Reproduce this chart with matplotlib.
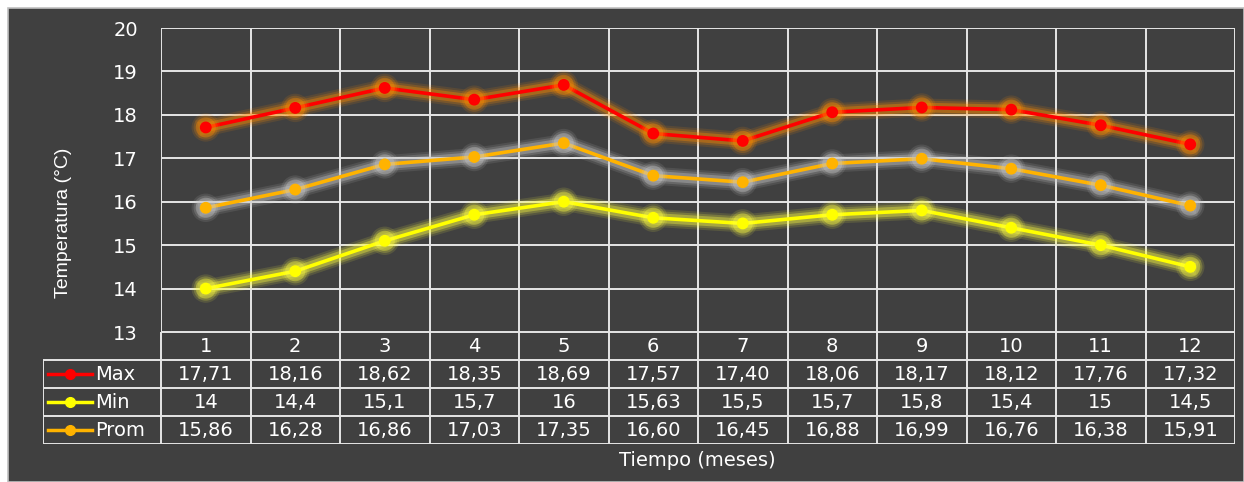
import numpy as np
import matplotlib.pyplot as plt
import matplotlib.patheffects as pe
from matplotlib.patches import Rectangle

plt.rcParams['font.family'] = ['DejaVu Sans']

months = [1, 2, 3, 4, 5, 6, 7, 8, 9, 10, 11, 12]
t_max = [17.71, 18.16, 18.62, 18.35, 18.69, 17.57, 17.40, 18.06, 18.17, 18.12, 17.76, 17.32]
t_min = [14, 14.4, 15.1, 15.7, 16, 15.63, 15.5, 15.7, 15.8, 15.4, 15, 14.5]
t_prom = [15.86, 16.28, 16.86, 17.03, 17.35, 16.60, 16.45, 16.88, 16.99, 16.76, 16.38, 15.91]

max_labels = ["17,71", "18,16", "18,62", "18,35", "18,69", "17,57", "17,40", "18,06", "18,17", "18,12", "17,76", "17,32"]
min_labels = ["14", "14,4", "15,1", "15,7", "16", "15,63", "15,5", "15,7", "15,8", "15,4", "15", "14,5"]
prom_labels = ["15,86", "16,28", "16,86", "17,03", "17,35", "16,60", "16,45", "16,88", "16,99", "16,76", "16,38", "15,91"]

series = [
    ("Max", t_max, max_labels, "#ff0000", "#ff8c00"),
    ("Min", t_min, min_labels, "#ffff00", "#ffff40"),
    ("Prom", t_prom, prom_labels, "#ffb300", "#c8c8c8"),
]

bg = "#404040"
grid_c = "#e6e6e6"
fs = 14
W, H = 1244, 482
fig = plt.figure(figsize=(W / 100, H / 100), dpi=100, facecolor="white")
fig.patches.append(Rectangle((8 / W, 0), 1 - 8 / W, 1 - 8 / H, transform=fig.transFigure,
                             facecolor=bg, edgecolor="#c0c0c0", lw=1.2, zorder=-10))

# plot area
x0, x1, ytop, ybot = 161, 1235, 28, 332
ax = fig.add_axes([x0 / W, 1 - ybot / H, (x1 - x0) / W, (ybot - ytop) / H])
ax.set_facecolor(bg)
ax.set_xlim(0.5, 12.5)
ax.set_ylim(13, 20)
for s in ax.spines.values():
    s.set_visible(False)
ax.set_xticks([])
ax.set_yticks(range(13, 21))
ax.tick_params(axis="y", length=0, pad=16.5, labelsize=fs, labelcolor="white")
ax.hlines(range(13, 21), 0.5, 12.5, color=grid_c, lw=1.4, zorder=1)
ax.vlines(np.arange(0.5, 13, 1), 13, 20, color=grid_c, lw=1.4, zorder=1)

def glow(c):
    return [pe.Stroke(linewidth=13, foreground=c, alpha=0.12),
            pe.Stroke(linewidth=10, foreground=c, alpha=0.2),
            pe.Stroke(linewidth=7, foreground=c, alpha=0.35),
            pe.Normal()]

for name, vals, _, col, gcol in series:
    ax.plot(months, vals, color=col, lw=2.6, marker="o", ms=7.5, zorder=3,
            path_effects=glow(gcol))

# data table under the plot
unit = (x1 - x0) / 12
tx0 = 43
tab_bottom = 444
tab = fig.add_axes([tx0 / W, 1 - tab_bottom / H, (x1 - tx0) / W, (tab_bottom - ybot) / H])
xmin = 0.5 - (x0 - tx0) / unit
tab.set_xlim(xmin, 12.5)
tab.set_ylim(4, 0)
tab.axis("off")
tab.patch.set_alpha(0)

tab.hlines([0], 0.5, 12.5, color=grid_c, lw=1.4)
tab.hlines([1, 2, 3, 4], xmin, 12.5, color=grid_c, lw=1.4)
tab.vlines(np.arange(0.5, 13, 1), 0, 4, color=grid_c, lw=1.4)
tab.vlines([xmin], 1, 4, color=grid_c, lw=1.4)

for m in months:
    tab.text(m, 0.5, str(m), color="white", fontsize=fs, ha="center", va="center")

for r, (name, vals, labels, col, gcol) in enumerate(series, start=1):
    yc = r + 0.5
    tab.plot([xmin + 0.06, xmin + 0.55], [yc, yc], color=col, lw=2.5)
    tab.plot([xmin + 0.305], [yc], "o", color=col, ms=7)
    tab.text(xmin + 0.58, yc, name, color="white", fontsize=fs, ha="left", va="center")
    for m, lab in zip(months, labels):
        tab.text(m, yc, lab, color="white", fontsize=fs, ha="center", va="center")

fig.text(63 / W, 1 - 223 / H, "Temperatura (°C)", rotation=90, color="white",
         fontsize=14, family="Liberation Sans", ha="center", va="center")
fig.text(697 / W, 1 - 460 / H, "Tiempo (meses)", color="white",
         fontsize=fs, ha="center", va="center")

fig.savefig("out.png", dpi=100, facecolor="white")
